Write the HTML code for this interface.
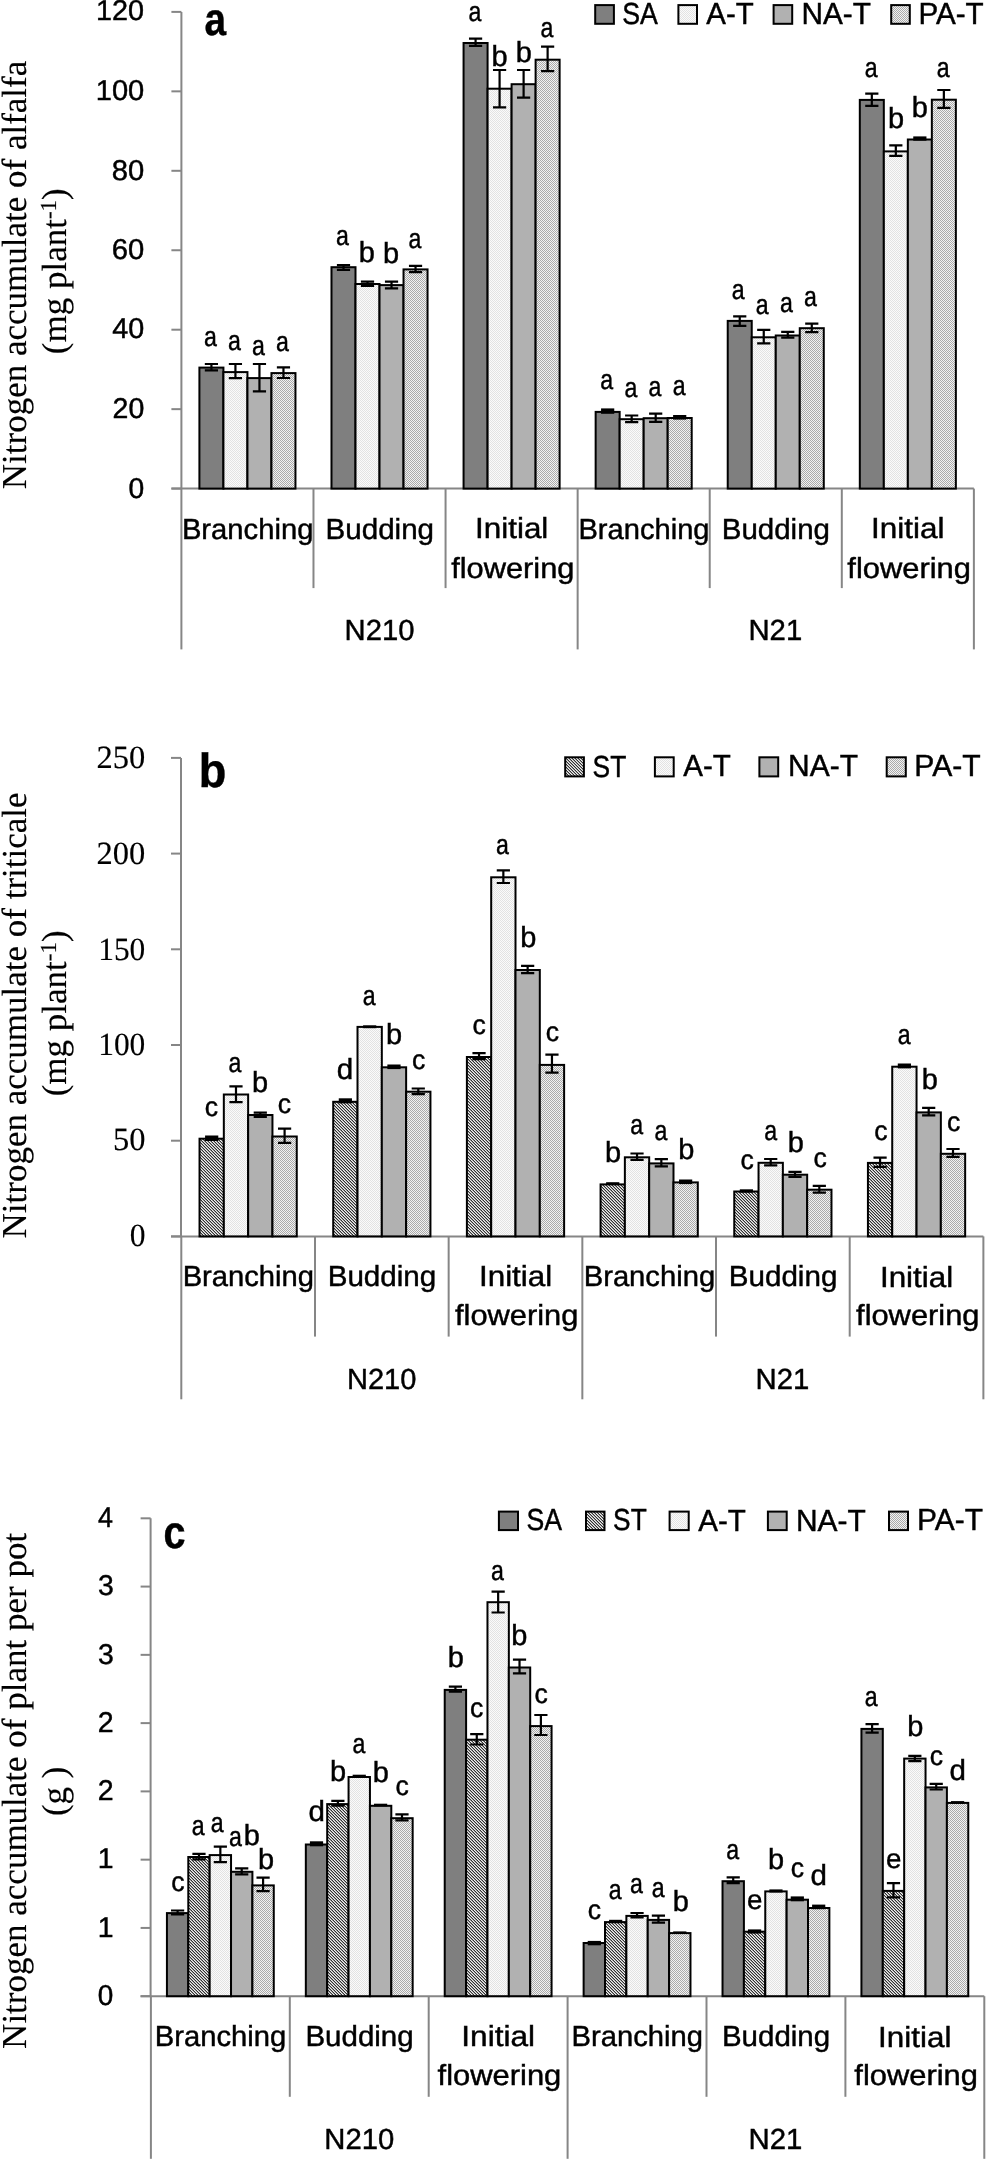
<!DOCTYPE html>
<html><head><meta charset="utf-8"><style>
html,body{margin:0;padding:0;background:#fff;}
svg{display:block;will-change:transform;}
text{fill:#000;stroke:#000;stroke-width:0.45px;text-rendering:geometricPrecision;}
text[font-family="Liberation Serif"]{stroke-width:0.15px;}
</style></head><body>
<svg width="986" height="2160" viewBox="0 0 986 2160" font-family="Liberation Sans, sans-serif">
<rect width="986" height="2160" fill="#fff"/>
<defs>
<pattern id="pAT" width="2" height="2" patternUnits="userSpaceOnUse"><rect width="2" height="2" fill="#fbfbfb"/><rect width="1" height="1" fill="#e3e3e3"/><rect x="1" y="1" width="1" height="1" fill="#e3e3e3"/></pattern>
<pattern id="pPAT" width="2" height="2" patternUnits="userSpaceOnUse"><rect width="2" height="2" fill="#f2f2f2"/><rect width="1" height="1" fill="#aaaaaa"/><rect x="1" y="1" width="1" height="1" fill="#aaaaaa"/></pattern>
<pattern id="pST" width="3" height="3" patternUnits="userSpaceOnUse"><rect width="3" height="3" fill="#a0a0a0"/><rect x="0" y="0" width="1" height="1" fill="#303030"/><rect x="1" y="1" width="1" height="1" fill="#303030"/><rect x="2" y="2" width="1" height="1" fill="#303030"/><rect x="1" y="0" width="1" height="1" fill="#f0f0f0"/><rect x="2" y="1" width="1" height="1" fill="#f0f0f0"/><rect x="0" y="2" width="1" height="1" fill="#f0f0f0"/></pattern>
</defs>
<line x1="181.40" y1="11.90" x2="181.40" y2="488.60" stroke="#868686" stroke-width="2"/>
<line x1="171.40" y1="488.60" x2="181.40" y2="488.60" stroke="#868686" stroke-width="2"/>
<line x1="171.40" y1="409.15" x2="181.40" y2="409.15" stroke="#868686" stroke-width="2"/>
<line x1="171.40" y1="329.70" x2="181.40" y2="329.70" stroke="#868686" stroke-width="2"/>
<line x1="171.40" y1="250.25" x2="181.40" y2="250.25" stroke="#868686" stroke-width="2"/>
<line x1="171.40" y1="170.80" x2="181.40" y2="170.80" stroke="#868686" stroke-width="2"/>
<line x1="171.40" y1="91.35" x2="181.40" y2="91.35" stroke="#868686" stroke-width="2"/>
<line x1="171.40" y1="11.90" x2="181.40" y2="11.90" stroke="#868686" stroke-width="2"/>
<line x1="171.40" y1="488.60" x2="973.88" y2="488.60" stroke="#868686" stroke-width="2"/>
<line x1="181.40" y1="488.60" x2="181.40" y2="649.40" stroke="#868686" stroke-width="2"/>
<line x1="313.48" y1="488.60" x2="313.48" y2="588.10" stroke="#868686" stroke-width="2"/>
<line x1="445.56" y1="488.60" x2="445.56" y2="588.10" stroke="#868686" stroke-width="2"/>
<line x1="577.64" y1="488.60" x2="577.64" y2="649.40" stroke="#868686" stroke-width="2"/>
<line x1="709.72" y1="488.60" x2="709.72" y2="588.10" stroke="#868686" stroke-width="2"/>
<line x1="841.80" y1="488.60" x2="841.80" y2="588.10" stroke="#868686" stroke-width="2"/>
<line x1="973.88" y1="488.60" x2="973.88" y2="649.40" stroke="#868686" stroke-width="2"/>
<text transform="translate(181.89,538.75) scale(1.0060,1)" font-family="Liberation Sans" font-weight="normal" font-size="29.04">Branching</text>
<text transform="translate(325.55,538.77) scale(1.0181,1)" font-family="Liberation Sans" font-weight="normal" font-size="29.04">Budding</text>
<text transform="translate(475.03,538.46) scale(1.0817,1)" font-family="Liberation Sans" font-weight="normal" font-size="29.04">Initial</text>
<text transform="translate(451.13,577.55) scale(1.0612,1)" font-family="Liberation Sans" font-weight="normal" font-size="29.04">flowering</text>
<text transform="translate(578.42,538.80) scale(1.0028,1)" font-family="Liberation Sans" font-weight="normal" font-size="29.04">Branching</text>
<text transform="translate(721.71,538.71) scale(1.0160,1)" font-family="Liberation Sans" font-weight="normal" font-size="29.04">Budding</text>
<text transform="translate(871.02,538.39) scale(1.0826,1)" font-family="Liberation Sans" font-weight="normal" font-size="29.04">Initial</text>
<text transform="translate(847.32,577.55) scale(1.0632,1)" font-family="Liberation Sans" font-weight="normal" font-size="29.04">flowering</text>
<text transform="translate(344.58,639.84) scale(1.0057,1)" font-family="Liberation Sans" font-weight="normal" font-size="29.04">N210</text>
<text transform="translate(748.48,639.84) scale(1.0084,1)" font-family="Liberation Sans" font-weight="normal" font-size="29.04">N21</text>
<text transform="translate(128.45,497.68) scale(0.9894,1)" font-family="Liberation Sans" font-weight="normal" font-size="28.55">0</text>
<text transform="translate(112.58,417.57) scale(0.9985,1)" font-family="Liberation Sans" font-weight="normal" font-size="28.55">20</text>
<text transform="translate(112.28,338.32) scale(1.0069,1)" font-family="Liberation Sans" font-weight="normal" font-size="28.55">40</text>
<text transform="translate(111.70,258.97) scale(1.0236,1)" font-family="Liberation Sans" font-weight="normal" font-size="28.55">60</text>
<text transform="translate(111.84,179.59) scale(1.0223,1)" font-family="Liberation Sans" font-weight="normal" font-size="28.55">80</text>
<text transform="translate(95.76,100.24) scale(1.0182,1)" font-family="Liberation Sans" font-weight="normal" font-size="28.55">100</text>
<text transform="translate(95.92,20.27) scale(1.0090,1)" font-family="Liberation Sans" font-weight="normal" font-size="28.55">120</text>
<rect x="199.41" y="367.60" width="24.01" height="121.00" fill="#7f7f7f" stroke="#000" stroke-width="2"/>
<rect x="223.43" y="372.10" width="24.01" height="116.50" fill="url(#pAT)" stroke="#000" stroke-width="2"/>
<rect x="247.44" y="378.10" width="24.01" height="110.50" fill="#b1b1b1" stroke="#000" stroke-width="2"/>
<rect x="271.45" y="373.10" width="24.01" height="115.50" fill="url(#pPAT)" stroke="#000" stroke-width="2"/>
<path d="M204.82,364.00H218.02M211.42,364.00V370.40M204.82,370.40H218.02" stroke="#000" stroke-width="2.2" fill="none"/>
<path d="M228.83,364.00H242.03M235.43,364.00V378.20M228.83,378.20H242.03" stroke="#000" stroke-width="2.2" fill="none"/>
<path d="M252.85,364.00H266.05M259.45,364.00V391.40M252.85,391.40H266.05" stroke="#000" stroke-width="2.2" fill="none"/>
<path d="M276.86,367.40H290.06M283.46,367.40V378.00M276.86,378.00H290.06" stroke="#000" stroke-width="2.2" fill="none"/>
<text transform="translate(203.92,345.79) scale(0.8283,1)" font-family="Liberation Sans" font-weight="normal" font-size="27.96">a</text>
<text transform="translate(228.03,349.61) scale(0.8283,1)" font-family="Liberation Sans" font-weight="normal" font-size="27.96">a</text>
<text transform="translate(252.00,355.47) scale(0.8283,1)" font-family="Liberation Sans" font-weight="normal" font-size="27.96">a</text>
<text transform="translate(275.94,350.68) scale(0.8283,1)" font-family="Liberation Sans" font-weight="normal" font-size="27.96">a</text>
<rect x="331.49" y="267.20" width="24.01" height="221.40" fill="#7f7f7f" stroke="#000" stroke-width="2"/>
<rect x="355.51" y="284.00" width="24.01" height="204.60" fill="url(#pAT)" stroke="#000" stroke-width="2"/>
<rect x="379.52" y="285.10" width="24.01" height="203.50" fill="#b1b1b1" stroke="#000" stroke-width="2"/>
<rect x="403.53" y="269.40" width="24.01" height="219.20" fill="url(#pPAT)" stroke="#000" stroke-width="2"/>
<path d="M336.90,265.20H350.10M343.50,265.20V269.80M336.90,269.80H350.10" stroke="#000" stroke-width="2.2" fill="none"/>
<path d="M360.91,281.60H374.11M367.51,281.60V285.80M360.91,285.80H374.11" stroke="#000" stroke-width="2.2" fill="none"/>
<path d="M384.93,281.60H398.13M391.53,281.60V288.30M384.93,288.30H398.13" stroke="#000" stroke-width="2.2" fill="none"/>
<path d="M408.94,265.90H422.14M415.54,265.90V272.20M408.94,272.20H422.14" stroke="#000" stroke-width="2.2" fill="none"/>
<text transform="translate(336.03,245.41) scale(0.8283,1)" font-family="Liberation Sans" font-weight="normal" font-size="27.96">a</text>
<text transform="translate(358.80,261.86) scale(0.9975,1)" font-family="Liberation Sans" font-weight="normal" font-size="29.06">b</text>
<text transform="translate(383.10,263.17) scale(0.9975,1)" font-family="Liberation Sans" font-weight="normal" font-size="29.06">b</text>
<text transform="translate(408.56,247.59) scale(0.8283,1)" font-family="Liberation Sans" font-weight="normal" font-size="27.96">a</text>
<rect x="463.57" y="43.00" width="24.01" height="445.60" fill="#7f7f7f" stroke="#000" stroke-width="2"/>
<rect x="487.59" y="88.70" width="24.01" height="399.90" fill="url(#pAT)" stroke="#000" stroke-width="2"/>
<rect x="511.60" y="84.20" width="24.01" height="404.40" fill="#b1b1b1" stroke="#000" stroke-width="2"/>
<rect x="535.61" y="59.70" width="24.01" height="428.90" fill="url(#pPAT)" stroke="#000" stroke-width="2"/>
<path d="M468.98,38.60H482.18M475.58,38.60V45.80M468.98,45.80H482.18" stroke="#000" stroke-width="2.2" fill="none"/>
<path d="M492.99,70.00H506.19M499.59,70.00V107.40M492.99,107.40H506.19" stroke="#000" stroke-width="2.2" fill="none"/>
<path d="M517.01,70.00H530.21M523.61,70.00V97.70M517.01,97.70H530.21" stroke="#000" stroke-width="2.2" fill="none"/>
<path d="M541.02,46.70H554.22M547.62,46.70V71.20M541.02,71.20H554.22" stroke="#000" stroke-width="2.2" fill="none"/>
<text transform="translate(468.61,20.81) scale(0.8283,1)" font-family="Liberation Sans" font-weight="normal" font-size="27.96">a</text>
<text transform="translate(491.46,66.49) scale(0.9975,1)" font-family="Liberation Sans" font-weight="normal" font-size="29.06">b</text>
<text transform="translate(515.79,62.11) scale(0.9975,1)" font-family="Liberation Sans" font-weight="normal" font-size="29.06">b</text>
<text transform="translate(540.56,37.24) scale(0.8283,1)" font-family="Liberation Sans" font-weight="normal" font-size="27.96">a</text>
<rect x="595.65" y="411.90" width="24.01" height="76.70" fill="#7f7f7f" stroke="#000" stroke-width="2"/>
<rect x="619.67" y="419.20" width="24.01" height="69.40" fill="url(#pAT)" stroke="#000" stroke-width="2"/>
<rect x="643.68" y="418.20" width="24.01" height="70.40" fill="#b1b1b1" stroke="#000" stroke-width="2"/>
<rect x="667.69" y="418.00" width="24.01" height="70.60" fill="url(#pPAT)" stroke="#000" stroke-width="2"/>
<rect x="601.06" y="408.40" width="13.2" height="5.40" fill="#000"/>
<path d="M625.07,415.50H638.27M631.67,415.50V422.20M625.07,422.20H638.27" stroke="#000" stroke-width="2.2" fill="none"/>
<path d="M649.09,413.70H662.29M655.69,413.70V421.90M649.09,421.90H662.29" stroke="#000" stroke-width="2.2" fill="none"/>
<rect x="673.10" y="415.00" width="13.2" height="4.60" fill="#000"/>
<text transform="translate(600.32,389.22) scale(0.8283,1)" font-family="Liberation Sans" font-weight="normal" font-size="27.96">a</text>
<text transform="translate(624.61,396.81) scale(0.8283,1)" font-family="Liberation Sans" font-weight="normal" font-size="27.96">a</text>
<text transform="translate(648.56,395.86) scale(0.8283,1)" font-family="Liberation Sans" font-weight="normal" font-size="27.96">a</text>
<text transform="translate(672.69,394.90) scale(0.8283,1)" font-family="Liberation Sans" font-weight="normal" font-size="27.96">a</text>
<rect x="727.73" y="320.90" width="24.01" height="167.70" fill="#7f7f7f" stroke="#000" stroke-width="2"/>
<rect x="751.75" y="337.30" width="24.01" height="151.30" fill="url(#pAT)" stroke="#000" stroke-width="2"/>
<rect x="775.76" y="335.50" width="24.01" height="153.10" fill="#b1b1b1" stroke="#000" stroke-width="2"/>
<rect x="799.77" y="328.20" width="24.01" height="160.40" fill="url(#pPAT)" stroke="#000" stroke-width="2"/>
<path d="M733.14,316.40H746.34M739.74,316.40V325.90M733.14,325.90H746.34" stroke="#000" stroke-width="2.2" fill="none"/>
<path d="M757.15,329.90H770.35M763.75,329.90V343.40M757.15,343.40H770.35" stroke="#000" stroke-width="2.2" fill="none"/>
<path d="M781.17,331.90H794.37M787.77,331.90V337.70M781.17,337.70H794.37" stroke="#000" stroke-width="2.2" fill="none"/>
<path d="M805.18,323.70H818.38M811.78,323.70V332.20M805.18,332.20H818.38" stroke="#000" stroke-width="2.2" fill="none"/>
<text transform="translate(731.86,299.01) scale(0.8283,1)" font-family="Liberation Sans" font-weight="normal" font-size="27.96">a</text>
<text transform="translate(755.86,314.36) scale(0.8283,1)" font-family="Liberation Sans" font-weight="normal" font-size="27.96">a</text>
<text transform="translate(780.11,312.47) scale(0.8283,1)" font-family="Liberation Sans" font-weight="normal" font-size="27.96">a</text>
<text transform="translate(804.12,306.39) scale(0.8283,1)" font-family="Liberation Sans" font-weight="normal" font-size="27.96">a</text>
<rect x="859.81" y="99.90" width="24.01" height="388.70" fill="#7f7f7f" stroke="#000" stroke-width="2"/>
<rect x="883.83" y="151.40" width="24.01" height="337.20" fill="url(#pAT)" stroke="#000" stroke-width="2"/>
<rect x="907.84" y="139.50" width="24.01" height="349.10" fill="#b1b1b1" stroke="#000" stroke-width="2"/>
<rect x="931.85" y="99.70" width="24.01" height="388.90" fill="url(#pPAT)" stroke="#000" stroke-width="2"/>
<path d="M865.22,93.70H878.42M871.82,93.70V105.90M865.22,105.90H878.42" stroke="#000" stroke-width="2.2" fill="none"/>
<path d="M889.23,145.40H902.43M895.83,145.40V155.80M889.23,155.80H902.43" stroke="#000" stroke-width="2.2" fill="none"/>
<rect x="913.25" y="136.40" width="13.2" height="4.30" fill="#000"/>
<path d="M937.26,90.00H950.46M943.86,90.00V107.90M937.26,107.90H950.46" stroke="#000" stroke-width="2.2" fill="none"/>
<text transform="translate(864.69,77.24) scale(0.8283,1)" font-family="Liberation Sans" font-weight="normal" font-size="27.96">a</text>
<text transform="translate(887.97,128.36) scale(0.9975,1)" font-family="Liberation Sans" font-weight="normal" font-size="29.06">b</text>
<text transform="translate(911.79,116.52) scale(0.9975,1)" font-family="Liberation Sans" font-weight="normal" font-size="29.06">b</text>
<text transform="translate(936.86,76.86) scale(0.8283,1)" font-family="Liberation Sans" font-weight="normal" font-size="27.96">a</text>
<line x1="181.00" y1="757.90" x2="181.00" y2="1236.40" stroke="#868686" stroke-width="2"/>
<line x1="171.00" y1="1236.40" x2="181.00" y2="1236.40" stroke="#868686" stroke-width="2"/>
<line x1="171.00" y1="1140.70" x2="181.00" y2="1140.70" stroke="#868686" stroke-width="2"/>
<line x1="171.00" y1="1045.00" x2="181.00" y2="1045.00" stroke="#868686" stroke-width="2"/>
<line x1="171.00" y1="949.30" x2="181.00" y2="949.30" stroke="#868686" stroke-width="2"/>
<line x1="171.00" y1="853.60" x2="181.00" y2="853.60" stroke="#868686" stroke-width="2"/>
<line x1="171.00" y1="757.90" x2="181.00" y2="757.90" stroke="#868686" stroke-width="2"/>
<line x1="171.00" y1="1236.40" x2="983.38" y2="1236.40" stroke="#868686" stroke-width="2"/>
<line x1="181.30" y1="1236.40" x2="181.30" y2="1399.30" stroke="#868686" stroke-width="2"/>
<line x1="314.98" y1="1236.40" x2="314.98" y2="1336.60" stroke="#868686" stroke-width="2"/>
<line x1="448.66" y1="1236.40" x2="448.66" y2="1336.60" stroke="#868686" stroke-width="2"/>
<line x1="582.34" y1="1236.40" x2="582.34" y2="1399.30" stroke="#868686" stroke-width="2"/>
<line x1="716.02" y1="1236.40" x2="716.02" y2="1336.60" stroke="#868686" stroke-width="2"/>
<line x1="849.70" y1="1236.40" x2="849.70" y2="1336.60" stroke="#868686" stroke-width="2"/>
<line x1="983.38" y1="1236.40" x2="983.38" y2="1399.30" stroke="#868686" stroke-width="2"/>
<text transform="translate(182.64,1286.09) scale(1.0052,1)" font-family="Liberation Sans" font-weight="normal" font-size="29.04">Branching</text>
<text transform="translate(327.65,1286.10) scale(1.0195,1)" font-family="Liberation Sans" font-weight="normal" font-size="29.04">Budding</text>
<text transform="translate(478.94,1286.49) scale(1.0816,1)" font-family="Liberation Sans" font-weight="normal" font-size="29.04">Initial</text>
<text transform="translate(455.00,1324.93) scale(1.0612,1)" font-family="Liberation Sans" font-weight="normal" font-size="29.04">flowering</text>
<text transform="translate(583.68,1286.10) scale(1.0058,1)" font-family="Liberation Sans" font-weight="normal" font-size="29.04">Branching</text>
<text transform="translate(728.72,1286.11) scale(1.0196,1)" font-family="Liberation Sans" font-weight="normal" font-size="29.04">Budding</text>
<text transform="translate(879.92,1286.53) scale(1.0811,1)" font-family="Liberation Sans" font-weight="normal" font-size="29.04">Initial</text>
<text transform="translate(856.06,1324.92) scale(1.0619,1)" font-family="Liberation Sans" font-weight="normal" font-size="29.04">flowering</text>
<text transform="translate(346.91,1389.01) scale(1.0000,1)" font-family="Liberation Sans" font-weight="normal" font-size="29.04">N210</text>
<text transform="translate(755.58,1389.11) scale(1.0096,1)" font-family="Liberation Sans" font-weight="normal" font-size="29.04">N21</text>
<text transform="translate(129.65,1246.32) scale(0.9757,1)" font-family="Liberation Serif" font-weight="normal" font-size="32.35">0</text>
<text transform="translate(112.95,1150.49) scale(1.0047,1)" font-family="Liberation Serif" font-weight="normal" font-size="32.35">50</text>
<text transform="translate(98.21,1054.69) scale(0.9714,1)" font-family="Liberation Serif" font-weight="normal" font-size="32.35">100</text>
<text transform="translate(98.21,959.68) scale(0.9714,1)" font-family="Liberation Serif" font-weight="normal" font-size="32.35">150</text>
<text transform="translate(96.60,863.90) scale(1.0054,1)" font-family="Liberation Serif" font-weight="normal" font-size="32.35">200</text>
<text transform="translate(96.60,768.10) scale(1.0054,1)" font-family="Liberation Serif" font-weight="normal" font-size="32.35">250</text>
<rect x="199.53" y="1138.70" width="24.31" height="97.70" fill="url(#pST)" stroke="#000" stroke-width="2"/>
<rect x="223.83" y="1094.50" width="24.31" height="141.90" fill="url(#pAT)" stroke="#000" stroke-width="2"/>
<rect x="248.14" y="1115.00" width="24.31" height="121.40" fill="#b1b1b1" stroke="#000" stroke-width="2"/>
<rect x="272.45" y="1136.50" width="24.31" height="99.90" fill="url(#pPAT)" stroke="#000" stroke-width="2"/>
<rect x="205.08" y="1135.50" width="13.2" height="5.50" fill="#000"/>
<path d="M229.39,1086.40H242.59M235.99,1086.40V1102.20M229.39,1102.20H242.59" stroke="#000" stroke-width="2.2" fill="none"/>
<path d="M253.69,1112.70H266.89M260.29,1112.70V1116.80M253.69,1116.80H266.89" stroke="#000" stroke-width="2.2" fill="none"/>
<path d="M278.00,1128.70H291.20M284.60,1128.70V1142.90M278.00,1142.90H291.20" stroke="#000" stroke-width="2.2" fill="none"/>
<text transform="translate(204.74,1116.22) scale(0.9718,1)" font-family="Liberation Sans" font-weight="normal" font-size="27.40">c</text>
<text transform="translate(228.55,1072.48) scale(0.8283,1)" font-family="Liberation Sans" font-weight="normal" font-size="27.96">a</text>
<text transform="translate(252.10,1091.98) scale(0.9975,1)" font-family="Liberation Sans" font-weight="normal" font-size="29.06">b</text>
<text transform="translate(277.85,1113.23) scale(0.9718,1)" font-family="Liberation Sans" font-weight="normal" font-size="27.40">c</text>
<rect x="333.21" y="1101.80" width="24.31" height="134.60" fill="url(#pST)" stroke="#000" stroke-width="2"/>
<rect x="357.51" y="1026.90" width="24.31" height="209.50" fill="url(#pAT)" stroke="#000" stroke-width="2"/>
<rect x="381.82" y="1067.30" width="24.31" height="169.10" fill="#b1b1b1" stroke="#000" stroke-width="2"/>
<rect x="406.13" y="1091.70" width="24.31" height="144.70" fill="url(#pPAT)" stroke="#000" stroke-width="2"/>
<rect x="338.76" y="1098.30" width="13.2" height="5.10" fill="#000"/>
<rect x="363.07" y="1025.30" width="13.2" height="2.90" fill="#000"/>
<rect x="387.37" y="1064.50" width="13.2" height="4.60" fill="#000"/>
<path d="M411.68,1088.50H424.88M418.28,1088.50V1094.10M411.68,1094.10H424.88" stroke="#000" stroke-width="2.2" fill="none"/>
<text transform="translate(336.80,1078.80) scale(1.0211,1)" font-family="Liberation Sans" font-weight="normal" font-size="28.94">d</text>
<text transform="translate(362.69,1004.98) scale(0.8283,1)" font-family="Liberation Sans" font-weight="normal" font-size="27.96">a</text>
<text transform="translate(386.08,1044.46) scale(0.9975,1)" font-family="Liberation Sans" font-weight="normal" font-size="29.06">b</text>
<text transform="translate(412.02,1069.46) scale(0.9718,1)" font-family="Liberation Sans" font-weight="normal" font-size="27.40">c</text>
<rect x="466.89" y="1057.00" width="24.31" height="179.40" fill="url(#pST)" stroke="#000" stroke-width="2"/>
<rect x="491.19" y="877.30" width="24.31" height="359.10" fill="url(#pAT)" stroke="#000" stroke-width="2"/>
<rect x="515.50" y="970.00" width="24.31" height="266.40" fill="#b1b1b1" stroke="#000" stroke-width="2"/>
<rect x="539.81" y="1064.90" width="24.31" height="171.50" fill="url(#pPAT)" stroke="#000" stroke-width="2"/>
<path d="M472.44,1053.10H485.64M479.04,1053.10V1059.20M472.44,1059.20H485.64" stroke="#000" stroke-width="2.2" fill="none"/>
<path d="M496.75,870.30H509.95M503.35,870.30V883.00M496.75,883.00H509.95" stroke="#000" stroke-width="2.2" fill="none"/>
<path d="M521.05,965.80H534.25M527.65,965.80V973.10M521.05,973.10H534.25" stroke="#000" stroke-width="2.2" fill="none"/>
<path d="M545.36,1054.70H558.56M551.96,1054.70V1072.60M545.36,1072.60H558.56" stroke="#000" stroke-width="2.2" fill="none"/>
<text transform="translate(472.40,1033.82) scale(0.9718,1)" font-family="Liberation Sans" font-weight="normal" font-size="27.40">c</text>
<text transform="translate(496.11,854.12) scale(0.8283,1)" font-family="Liberation Sans" font-weight="normal" font-size="27.96">a</text>
<text transform="translate(520.18,947.01) scale(0.9975,1)" font-family="Liberation Sans" font-weight="normal" font-size="29.06">b</text>
<text transform="translate(545.67,1041.38) scale(0.9718,1)" font-family="Liberation Sans" font-weight="normal" font-size="27.40">c</text>
<rect x="600.57" y="1184.40" width="24.31" height="52.00" fill="url(#pST)" stroke="#000" stroke-width="2"/>
<rect x="624.87" y="1157.30" width="24.31" height="79.10" fill="url(#pAT)" stroke="#000" stroke-width="2"/>
<rect x="649.18" y="1163.40" width="24.31" height="73.00" fill="#b1b1b1" stroke="#000" stroke-width="2"/>
<rect x="673.49" y="1182.40" width="24.31" height="54.00" fill="url(#pPAT)" stroke="#000" stroke-width="2"/>
<rect x="606.12" y="1182.20" width="13.2" height="2.70" fill="#000"/>
<path d="M630.43,1153.50H643.63M637.03,1153.50V1159.80M630.43,1159.80H643.63" stroke="#000" stroke-width="2.2" fill="none"/>
<path d="M654.73,1159.20H667.93M661.33,1159.20V1166.30M654.73,1166.30H667.93" stroke="#000" stroke-width="2.2" fill="none"/>
<rect x="679.04" y="1179.50" width="13.2" height="4.60" fill="#000"/>
<text transform="translate(605.10,1161.63) scale(0.9975,1)" font-family="Liberation Sans" font-weight="normal" font-size="29.06">b</text>
<text transform="translate(630.37,1134.07) scale(0.8283,1)" font-family="Liberation Sans" font-weight="normal" font-size="27.96">a</text>
<text transform="translate(654.61,1139.96) scale(0.8283,1)" font-family="Liberation Sans" font-weight="normal" font-size="27.96">a</text>
<text transform="translate(678.36,1159.23) scale(0.9975,1)" font-family="Liberation Sans" font-weight="normal" font-size="29.06">b</text>
<rect x="734.25" y="1191.50" width="24.31" height="44.90" fill="url(#pST)" stroke="#000" stroke-width="2"/>
<rect x="758.55" y="1162.80" width="24.31" height="73.60" fill="url(#pAT)" stroke="#000" stroke-width="2"/>
<rect x="782.86" y="1174.70" width="24.31" height="61.70" fill="#b1b1b1" stroke="#000" stroke-width="2"/>
<rect x="807.17" y="1189.70" width="24.31" height="46.70" fill="url(#pPAT)" stroke="#000" stroke-width="2"/>
<rect x="739.80" y="1189.30" width="13.2" height="3.30" fill="#000"/>
<path d="M764.11,1159.00H777.31M770.71,1159.00V1165.30M764.11,1165.30H777.31" stroke="#000" stroke-width="2.2" fill="none"/>
<path d="M788.41,1171.80H801.61M795.01,1171.80V1176.90M788.41,1176.90H801.61" stroke="#000" stroke-width="2.2" fill="none"/>
<path d="M812.72,1185.80H825.92M819.32,1185.80V1192.70M812.72,1192.70H825.92" stroke="#000" stroke-width="2.2" fill="none"/>
<text transform="translate(740.50,1168.83) scale(0.9718,1)" font-family="Liberation Sans" font-weight="normal" font-size="27.40">c</text>
<text transform="translate(764.32,1140.07) scale(0.8283,1)" font-family="Liberation Sans" font-weight="normal" font-size="27.96">a</text>
<text transform="translate(787.82,1151.97) scale(0.9975,1)" font-family="Liberation Sans" font-weight="normal" font-size="29.06">b</text>
<text transform="translate(813.49,1167.07) scale(0.9718,1)" font-family="Liberation Sans" font-weight="normal" font-size="27.40">c</text>
<rect x="867.93" y="1162.90" width="24.31" height="73.50" fill="url(#pST)" stroke="#000" stroke-width="2"/>
<rect x="892.23" y="1066.70" width="24.31" height="169.70" fill="url(#pAT)" stroke="#000" stroke-width="2"/>
<rect x="916.54" y="1112.40" width="24.31" height="124.00" fill="#b1b1b1" stroke="#000" stroke-width="2"/>
<rect x="940.85" y="1153.80" width="24.31" height="82.60" fill="url(#pPAT)" stroke="#000" stroke-width="2"/>
<path d="M873.48,1157.70H886.68M880.08,1157.70V1166.90M873.48,1166.90H886.68" stroke="#000" stroke-width="2.2" fill="none"/>
<rect x="897.79" y="1063.50" width="13.2" height="4.90" fill="#000"/>
<path d="M922.09,1107.90H935.29M928.69,1107.90V1115.40M922.09,1115.40H935.29" stroke="#000" stroke-width="2.2" fill="none"/>
<path d="M946.40,1149.00H959.60M953.00,1149.00V1156.80M946.40,1156.80H959.60" stroke="#000" stroke-width="2.2" fill="none"/>
<text transform="translate(874.26,1139.66) scale(0.9718,1)" font-family="Liberation Sans" font-weight="normal" font-size="27.40">c</text>
<text transform="translate(897.86,1043.90) scale(0.8283,1)" font-family="Liberation Sans" font-weight="normal" font-size="27.96">a</text>
<text transform="translate(921.79,1089.29) scale(0.9975,1)" font-family="Liberation Sans" font-weight="normal" font-size="29.06">b</text>
<text transform="translate(947.08,1131.08) scale(0.9718,1)" font-family="Liberation Sans" font-weight="normal" font-size="27.40">c</text>
<line x1="150.60" y1="1518.30" x2="150.60" y2="1996.20" stroke="#868686" stroke-width="2"/>
<line x1="140.60" y1="1996.20" x2="150.60" y2="1996.20" stroke="#868686" stroke-width="2"/>
<line x1="140.60" y1="1927.93" x2="150.60" y2="1927.93" stroke="#868686" stroke-width="2"/>
<line x1="140.60" y1="1859.66" x2="150.60" y2="1859.66" stroke="#868686" stroke-width="2"/>
<line x1="140.60" y1="1791.39" x2="150.60" y2="1791.39" stroke="#868686" stroke-width="2"/>
<line x1="140.60" y1="1723.12" x2="150.60" y2="1723.12" stroke="#868686" stroke-width="2"/>
<line x1="140.60" y1="1654.85" x2="150.60" y2="1654.85" stroke="#868686" stroke-width="2"/>
<line x1="140.60" y1="1586.58" x2="150.60" y2="1586.58" stroke="#868686" stroke-width="2"/>
<line x1="140.60" y1="1518.31" x2="150.60" y2="1518.31" stroke="#868686" stroke-width="2"/>
<line x1="140.60" y1="1996.20" x2="984.30" y2="1996.20" stroke="#868686" stroke-width="2"/>
<line x1="150.90" y1="1996.20" x2="150.90" y2="2158.80" stroke="#868686" stroke-width="2"/>
<line x1="289.80" y1="1996.20" x2="289.80" y2="2096.80" stroke="#868686" stroke-width="2"/>
<line x1="428.70" y1="1996.20" x2="428.70" y2="2096.80" stroke="#868686" stroke-width="2"/>
<line x1="567.60" y1="1996.20" x2="567.60" y2="2158.80" stroke="#868686" stroke-width="2"/>
<line x1="706.50" y1="1996.20" x2="706.50" y2="2096.80" stroke="#868686" stroke-width="2"/>
<line x1="845.40" y1="1996.20" x2="845.40" y2="2096.80" stroke="#868686" stroke-width="2"/>
<line x1="984.30" y1="1996.20" x2="984.30" y2="2158.80" stroke="#868686" stroke-width="2"/>
<text transform="translate(154.78,2046.19) scale(1.0050,1)" font-family="Liberation Sans" font-weight="normal" font-size="29.04">Branching</text>
<text transform="translate(305.45,2046.24) scale(1.0157,1)" font-family="Liberation Sans" font-weight="normal" font-size="29.04">Budding</text>
<text transform="translate(461.32,2046.48) scale(1.0879,1)" font-family="Liberation Sans" font-weight="normal" font-size="29.04">Initial</text>
<text transform="translate(437.55,2085.10) scale(1.0651,1)" font-family="Liberation Sans" font-weight="normal" font-size="29.04">flowering</text>
<text transform="translate(571.56,2046.19) scale(1.0052,1)" font-family="Liberation Sans" font-weight="normal" font-size="29.04">Branching</text>
<text transform="translate(721.90,2046.18) scale(1.0159,1)" font-family="Liberation Sans" font-weight="normal" font-size="29.04">Budding</text>
<text transform="translate(878.11,2046.54) scale(1.0815,1)" font-family="Liberation Sans" font-weight="normal" font-size="29.04">Initial</text>
<text transform="translate(854.33,2085.01) scale(1.0634,1)" font-family="Liberation Sans" font-weight="normal" font-size="29.04">flowering</text>
<text transform="translate(324.35,2148.67) scale(1.0064,1)" font-family="Liberation Sans" font-weight="normal" font-size="29.04">N210</text>
<text transform="translate(748.54,2148.79) scale(1.0106,1)" font-family="Liberation Sans" font-weight="normal" font-size="29.04">N21</text>
<text transform="translate(97.75,2004.89) scale(0.9779,1)" font-family="Liberation Sans" font-weight="normal" font-size="28.55">0</text>
<text transform="translate(97.86,1936.65) scale(0.9940,1)" font-family="Liberation Sans" font-weight="normal" font-size="28.55">1</text>
<text transform="translate(97.86,1868.45) scale(0.9940,1)" font-family="Liberation Sans" font-weight="normal" font-size="28.55">1</text>
<text transform="translate(97.72,1800.25) scale(0.9988,1)" font-family="Liberation Sans" font-weight="normal" font-size="28.55">2</text>
<text transform="translate(97.72,1732.04) scale(0.9988,1)" font-family="Liberation Sans" font-weight="normal" font-size="28.55">2</text>
<text transform="translate(97.94,1663.69) scale(0.9939,1)" font-family="Liberation Sans" font-weight="normal" font-size="28.55">3</text>
<text transform="translate(97.94,1595.49) scale(0.9939,1)" font-family="Liberation Sans" font-weight="normal" font-size="28.55">3</text>
<text transform="translate(97.97,1527.41) scale(0.9414,1)" font-family="Liberation Sans" font-weight="normal" font-size="28.55">4</text>
<rect x="166.93" y="1913.10" width="21.37" height="83.10" fill="#7f7f7f" stroke="#000" stroke-width="2"/>
<rect x="188.30" y="1857.00" width="21.37" height="139.20" fill="url(#pST)" stroke="#000" stroke-width="2"/>
<rect x="209.67" y="1855.10" width="21.37" height="141.10" fill="url(#pAT)" stroke="#000" stroke-width="2"/>
<rect x="231.03" y="1871.80" width="21.37" height="124.40" fill="#b1b1b1" stroke="#000" stroke-width="2"/>
<rect x="252.40" y="1885.40" width="21.37" height="110.80" fill="url(#pPAT)" stroke="#000" stroke-width="2"/>
<path d="M171.01,1910.50H184.21M177.61,1910.50V1914.30M171.01,1914.30H184.21" stroke="#000" stroke-width="2.2" fill="none"/>
<path d="M192.38,1853.80H205.58M198.98,1853.80V1859.30M192.38,1859.30H205.58" stroke="#000" stroke-width="2.2" fill="none"/>
<path d="M213.75,1846.60H226.95M220.35,1846.60V1862.20M213.75,1862.20H226.95" stroke="#000" stroke-width="2.2" fill="none"/>
<path d="M235.12,1868.30H248.32M241.72,1868.30V1874.30M235.12,1874.30H248.32" stroke="#000" stroke-width="2.2" fill="none"/>
<path d="M256.49,1877.60H269.69M263.09,1877.60V1891.20M256.49,1891.20H269.69" stroke="#000" stroke-width="2.2" fill="none"/>
<text transform="translate(171.33,1890.51) scale(0.9718,1)" font-family="Liberation Sans" font-weight="normal" font-size="27.40">c</text>
<text transform="translate(191.86,1834.52) scale(0.8283,1)" font-family="Liberation Sans" font-weight="normal" font-size="27.96">a</text>
<text transform="translate(210.66,1832.03) scale(0.8283,1)" font-family="Liberation Sans" font-weight="normal" font-size="27.96">a</text>
<text transform="translate(229.03,1845.61) scale(0.8283,1)" font-family="Liberation Sans" font-weight="normal" font-size="27.96">a</text>
<text transform="translate(243.85,1844.97) scale(0.9975,1)" font-family="Liberation Sans" font-weight="normal" font-size="29.06">b</text>
<text transform="translate(257.94,1868.70) scale(0.9975,1)" font-family="Liberation Sans" font-weight="normal" font-size="29.06">b</text>
<rect x="305.83" y="1844.50" width="21.37" height="151.70" fill="#7f7f7f" stroke="#000" stroke-width="2"/>
<rect x="327.20" y="1804.10" width="21.37" height="192.10" fill="url(#pST)" stroke="#000" stroke-width="2"/>
<rect x="348.57" y="1777.00" width="21.37" height="219.20" fill="url(#pAT)" stroke="#000" stroke-width="2"/>
<rect x="369.93" y="1805.80" width="21.37" height="190.40" fill="#b1b1b1" stroke="#000" stroke-width="2"/>
<rect x="391.30" y="1818.20" width="21.37" height="178.00" fill="url(#pPAT)" stroke="#000" stroke-width="2"/>
<rect x="309.91" y="1841.30" width="13.2" height="5.00" fill="#000"/>
<path d="M331.28,1800.90H344.48M337.88,1800.90V1805.70M331.28,1805.70H344.48" stroke="#000" stroke-width="2.2" fill="none"/>
<rect x="352.65" y="1774.70" width="13.2" height="3.00" fill="#000"/>
<rect x="374.02" y="1803.70" width="13.2" height="2.70" fill="#000"/>
<path d="M395.39,1814.40H408.59M401.99,1814.40V1820.40M395.39,1820.40H408.59" stroke="#000" stroke-width="2.2" fill="none"/>
<text transform="translate(308.51,1821.23) scale(1.0211,1)" font-family="Liberation Sans" font-weight="normal" font-size="28.94">d</text>
<text transform="translate(330.10,1781.21) scale(0.9975,1)" font-family="Liberation Sans" font-weight="normal" font-size="29.06">b</text>
<text transform="translate(352.38,1753.28) scale(0.8283,1)" font-family="Liberation Sans" font-weight="normal" font-size="27.96">a</text>
<text transform="translate(372.79,1782.38) scale(0.9975,1)" font-family="Liberation Sans" font-weight="normal" font-size="29.06">b</text>
<text transform="translate(395.50,1795.29) scale(0.9718,1)" font-family="Liberation Sans" font-weight="normal" font-size="27.40">c</text>
<rect x="444.73" y="1689.90" width="21.37" height="306.30" fill="#7f7f7f" stroke="#000" stroke-width="2"/>
<rect x="466.10" y="1739.70" width="21.37" height="256.50" fill="url(#pST)" stroke="#000" stroke-width="2"/>
<rect x="487.47" y="1602.20" width="21.37" height="394.00" fill="url(#pAT)" stroke="#000" stroke-width="2"/>
<rect x="508.83" y="1667.50" width="21.37" height="328.70" fill="#b1b1b1" stroke="#000" stroke-width="2"/>
<rect x="530.20" y="1726.10" width="21.37" height="270.10" fill="url(#pPAT)" stroke="#000" stroke-width="2"/>
<path d="M448.81,1686.70H462.01M455.41,1686.70V1691.70M448.81,1691.70H462.01" stroke="#000" stroke-width="2.2" fill="none"/>
<path d="M470.18,1734.10H483.38M476.78,1734.10V1744.50M470.18,1744.50H483.38" stroke="#000" stroke-width="2.2" fill="none"/>
<path d="M491.55,1591.60H504.75M498.15,1591.60V1612.50M491.55,1612.50H504.75" stroke="#000" stroke-width="2.2" fill="none"/>
<path d="M512.92,1659.70H526.12M519.52,1659.70V1673.30M512.92,1673.30H526.12" stroke="#000" stroke-width="2.2" fill="none"/>
<path d="M534.29,1715.00H547.49M540.89,1715.00V1735.00M534.29,1735.00H547.49" stroke="#000" stroke-width="2.2" fill="none"/>
<text transform="translate(447.79,1667.14) scale(0.9975,1)" font-family="Liberation Sans" font-weight="normal" font-size="29.06">b</text>
<text transform="translate(470.02,1717.27) scale(0.9718,1)" font-family="Liberation Sans" font-weight="normal" font-size="27.40">c</text>
<text transform="translate(490.92,1580.13) scale(0.8283,1)" font-family="Liberation Sans" font-weight="normal" font-size="27.96">a</text>
<text transform="translate(511.33,1644.53) scale(0.9975,1)" font-family="Liberation Sans" font-weight="normal" font-size="29.06">b</text>
<text transform="translate(534.40,1703.05) scale(0.9718,1)" font-family="Liberation Sans" font-weight="normal" font-size="27.40">c</text>
<rect x="583.63" y="1943.00" width="21.37" height="53.20" fill="#7f7f7f" stroke="#000" stroke-width="2"/>
<rect x="605.00" y="1922.10" width="21.37" height="74.10" fill="url(#pST)" stroke="#000" stroke-width="2"/>
<rect x="626.37" y="1915.90" width="21.37" height="80.30" fill="url(#pAT)" stroke="#000" stroke-width="2"/>
<rect x="647.73" y="1919.90" width="21.37" height="76.30" fill="#b1b1b1" stroke="#000" stroke-width="2"/>
<rect x="669.10" y="1933.10" width="21.37" height="63.10" fill="url(#pPAT)" stroke="#000" stroke-width="2"/>
<rect x="587.71" y="1940.90" width="13.2" height="4.40" fill="#000"/>
<rect x="609.08" y="1919.80" width="13.2" height="3.40" fill="#000"/>
<path d="M630.45,1913.00H643.65M637.05,1913.00V1917.40M630.45,1917.40H643.65" stroke="#000" stroke-width="2.2" fill="none"/>
<path d="M651.82,1915.60H665.02M658.42,1915.60V1922.70M651.82,1922.70H665.02" stroke="#000" stroke-width="2.2" fill="none"/>
<rect x="673.19" y="1931.40" width="13.2" height="2.60" fill="#000"/>
<text transform="translate(587.70,1919.44) scale(0.9718,1)" font-family="Liberation Sans" font-weight="normal" font-size="27.40">c</text>
<text transform="translate(608.78,1899.00) scale(0.8283,1)" font-family="Liberation Sans" font-weight="normal" font-size="27.96">a</text>
<text transform="translate(629.94,1892.65) scale(0.8283,1)" font-family="Liberation Sans" font-weight="normal" font-size="27.96">a</text>
<text transform="translate(651.85,1897.06) scale(0.8283,1)" font-family="Liberation Sans" font-weight="normal" font-size="27.96">a</text>
<text transform="translate(672.79,1910.56) scale(0.9975,1)" font-family="Liberation Sans" font-weight="normal" font-size="29.06">b</text>
<rect x="722.53" y="1881.20" width="21.37" height="115.00" fill="#7f7f7f" stroke="#000" stroke-width="2"/>
<rect x="743.90" y="1931.70" width="21.37" height="64.50" fill="url(#pST)" stroke="#000" stroke-width="2"/>
<rect x="765.27" y="1891.40" width="21.37" height="104.80" fill="url(#pAT)" stroke="#000" stroke-width="2"/>
<rect x="786.63" y="1899.70" width="21.37" height="96.50" fill="#b1b1b1" stroke="#000" stroke-width="2"/>
<rect x="808.00" y="1908.00" width="21.37" height="88.20" fill="url(#pPAT)" stroke="#000" stroke-width="2"/>
<path d="M726.61,1877.40H739.81M733.21,1877.40V1883.10M726.61,1883.10H739.81" stroke="#000" stroke-width="2.2" fill="none"/>
<rect x="747.98" y="1929.40" width="13.2" height="4.20" fill="#000"/>
<rect x="769.35" y="1889.40" width="13.2" height="3.10" fill="#000"/>
<rect x="790.72" y="1896.40" width="13.2" height="4.90" fill="#000"/>
<rect x="812.09" y="1904.60" width="13.2" height="4.60" fill="#000"/>
<text transform="translate(726.16,1859.07) scale(0.8283,1)" font-family="Liberation Sans" font-weight="normal" font-size="27.96">a</text>
<text transform="translate(747.02,1908.83) scale(1.0028,1)" font-family="Liberation Sans" font-weight="normal" font-size="27.65">e</text>
<text transform="translate(768.10,1868.60) scale(0.9975,1)" font-family="Liberation Sans" font-weight="normal" font-size="29.06">b</text>
<text transform="translate(790.85,1876.74) scale(0.9718,1)" font-family="Liberation Sans" font-weight="normal" font-size="27.40">c</text>
<text transform="translate(810.62,1884.51) scale(1.0211,1)" font-family="Liberation Sans" font-weight="normal" font-size="28.94">d</text>
<rect x="861.43" y="1728.90" width="21.37" height="267.30" fill="#7f7f7f" stroke="#000" stroke-width="2"/>
<rect x="882.80" y="1890.90" width="21.37" height="105.30" fill="url(#pST)" stroke="#000" stroke-width="2"/>
<rect x="904.17" y="1758.60" width="21.37" height="237.60" fill="url(#pAT)" stroke="#000" stroke-width="2"/>
<rect x="925.53" y="1787.40" width="21.37" height="208.80" fill="#b1b1b1" stroke="#000" stroke-width="2"/>
<rect x="946.90" y="1802.90" width="21.37" height="193.30" fill="url(#pPAT)" stroke="#000" stroke-width="2"/>
<path d="M865.51,1724.10H878.71M872.11,1724.10V1732.70M865.51,1732.70H878.71" stroke="#000" stroke-width="2.2" fill="none"/>
<path d="M886.88,1883.10H900.08M893.48,1883.10V1897.30M886.88,1897.30H900.08" stroke="#000" stroke-width="2.2" fill="none"/>
<path d="M908.25,1755.80H921.45M914.85,1755.80V1761.10M908.25,1761.10H921.45" stroke="#000" stroke-width="2.2" fill="none"/>
<path d="M929.62,1783.80H942.82M936.22,1783.80V1789.50M929.62,1789.50H942.82" stroke="#000" stroke-width="2.2" fill="none"/>
<rect x="950.99" y="1801.10" width="13.2" height="2.70" fill="#000"/>
<text transform="translate(864.86,1706.21) scale(0.8283,1)" font-family="Liberation Sans" font-weight="normal" font-size="27.96">a</text>
<text transform="translate(886.08,1867.69) scale(1.0028,1)" font-family="Liberation Sans" font-weight="normal" font-size="27.65">e</text>
<text transform="translate(907.17,1735.99) scale(0.9975,1)" font-family="Liberation Sans" font-weight="normal" font-size="29.06">b</text>
<text transform="translate(929.85,1764.62) scale(0.9718,1)" font-family="Liberation Sans" font-weight="normal" font-size="27.40">c</text>
<text transform="translate(949.62,1779.93) scale(1.0211,1)" font-family="Liberation Sans" font-weight="normal" font-size="28.94">d</text>
<text transform="translate(204.38,35.38) scale(0.8396,1)" font-family="Liberation Sans" font-weight="bold" font-size="46.18">a</text>
<text transform="translate(198.83,787.19) scale(0.9367,1)" font-family="Liberation Sans" font-weight="bold" font-size="48.14">b</text>
<text transform="translate(163.45,1547.77) scale(0.8561,1)" font-family="Liberation Sans" font-weight="bold" font-size="46.16">c</text>
<text transform="translate(26.10,489.25) rotate(-90)" font-family="Liberation Serif" font-size="35">Nitrogen accumulate of alfalfa</text>
<text transform="translate(66.10,354.20) rotate(-90)" font-family="Liberation Serif" font-size="35">(mg plant<tspan font-size="23" dy="-10.6">-1</tspan><tspan dy="10.6">)</tspan></text>
<text transform="translate(26.10,1238.45) rotate(-90)" font-family="Liberation Serif" font-size="35">Nitrogen accumulate of triticale</text>
<text transform="translate(66.10,1096.30) rotate(-90)" font-family="Liberation Serif" font-size="35">(mg plant<tspan font-size="23" dy="-10.6">-1</tspan><tspan dy="10.6">)</tspan></text>
<text transform="translate(26.10,2048.89) rotate(-90)" font-family="Liberation Serif" font-size="35">Nitrogen accumulate of plant per pot</text>
<text transform="translate(66.10,1816.05) rotate(-90)" font-family="Liberation Serif" font-size="35">(g )</text>
<rect x="595.20" y="5.10" width="18.70" height="18.70" fill="#7f7f7f" stroke="#000" stroke-width="2"/>
<text transform="translate(622.17,23.56) scale(0.8785,1)" font-family="Liberation Sans" font-weight="normal" font-size="30.41">SA</text>
<rect x="678.40" y="5.10" width="18.60" height="18.70" fill="url(#pAT)" stroke="#000" stroke-width="2"/>
<text transform="translate(706.29,23.80) scale(0.9681,1)" font-family="Liberation Sans" font-weight="normal" font-size="30.41">A-T</text>
<rect x="773.60" y="5.10" width="18.60" height="18.70" fill="#b1b1b1" stroke="#000" stroke-width="2"/>
<text transform="translate(801.41,23.81) scale(0.9785,1)" font-family="Liberation Sans" font-weight="normal" font-size="30.41">NA-T</text>
<rect x="891.20" y="5.10" width="18.60" height="18.70" fill="url(#pPAT)" stroke="#000" stroke-width="2"/>
<text transform="translate(918.42,23.80) scale(0.9746,1)" font-family="Liberation Sans" font-weight="normal" font-size="30.41">PA-T</text>
<rect x="565.20" y="757.30" width="18.70" height="19.10" fill="url(#pST)" stroke="#000" stroke-width="2"/>
<text transform="translate(592.57,776.62) scale(0.8674,1)" font-family="Liberation Sans" font-weight="normal" font-size="30.41">ST</text>
<rect x="654.90" y="757.30" width="18.80" height="19.10" fill="url(#pAT)" stroke="#000" stroke-width="2"/>
<text transform="translate(683.20,776.19) scale(0.9716,1)" font-family="Liberation Sans" font-weight="normal" font-size="30.41">A-T</text>
<rect x="759.40" y="757.30" width="18.80" height="19.10" fill="#b1b1b1" stroke="#000" stroke-width="2"/>
<text transform="translate(788.07,776.19) scale(0.9851,1)" font-family="Liberation Sans" font-weight="normal" font-size="30.41">NA-T</text>
<rect x="886.70" y="757.30" width="19.10" height="19.10" fill="url(#pPAT)" stroke="#000" stroke-width="2"/>
<text transform="translate(914.29,776.19) scale(0.9912,1)" font-family="Liberation Sans" font-weight="normal" font-size="30.41">PA-T</text>
<rect x="498.90" y="1511.60" width="19.10" height="18.50" fill="#7f7f7f" stroke="#000" stroke-width="2"/>
<text transform="translate(526.58,1530.23) scale(0.8763,1)" font-family="Liberation Sans" font-weight="normal" font-size="30.41">SA</text>
<rect x="586.00" y="1511.60" width="18.50" height="18.50" fill="url(#pST)" stroke="#000" stroke-width="2"/>
<text transform="translate(613.11,1530.25) scale(0.8644,1)" font-family="Liberation Sans" font-weight="normal" font-size="30.41">ST</text>
<rect x="669.60" y="1511.60" width="19.10" height="18.50" fill="url(#pAT)" stroke="#000" stroke-width="2"/>
<text transform="translate(698.30,1530.50) scale(0.9724,1)" font-family="Liberation Sans" font-weight="normal" font-size="30.41">A-T</text>
<rect x="767.90" y="1511.60" width="18.80" height="18.50" fill="#b1b1b1" stroke="#000" stroke-width="2"/>
<text transform="translate(795.95,1530.50) scale(0.9844,1)" font-family="Liberation Sans" font-weight="normal" font-size="30.41">NA-T</text>
<rect x="889.00" y="1511.60" width="19.00" height="18.50" fill="url(#pPAT)" stroke="#000" stroke-width="2"/>
<text transform="translate(917.09,1530.49) scale(0.9827,1)" font-family="Liberation Sans" font-weight="normal" font-size="30.41">PA-T</text>
</svg></body></html>
